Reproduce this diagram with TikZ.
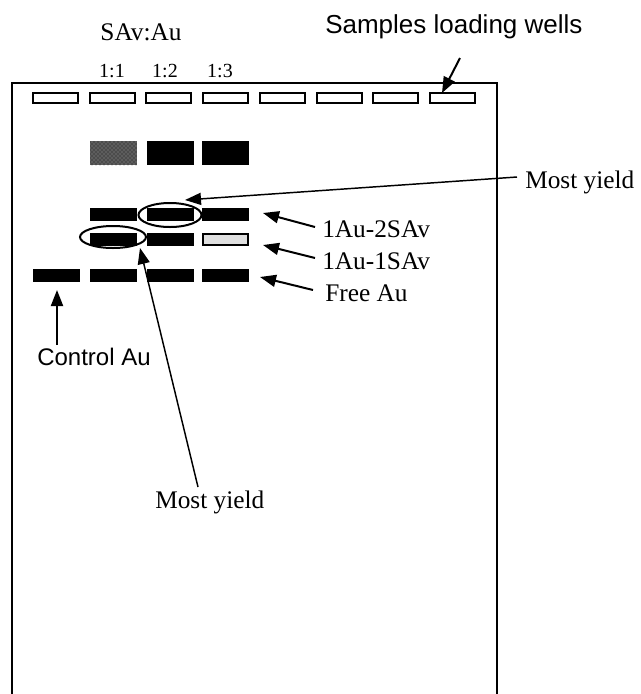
\documentclass[tikz,border=0pt]{standalone}
\usepackage{fontspec}
\setmainfont{Liberation Serif}
\newfontfamily\sansf{Liberation Sans}
\usetikzlibrary{arrows.meta,shapes.geometric,patterns}
\begin{document}
\begin{tikzpicture}[x=0.75pt,y=-0.75pt,
  gelline/.style={line width=1.5pt},
  well/.style={draw, line width=1.5pt, minimum width=33.75pt, minimum height=7.5pt, inner sep=0pt},
  band/.style={fill=black, minimum width=35.25pt, minimum height=9.75pt, inner sep=0pt},
  thickband/.style={band, minimum height=18pt},
  ring/.style={draw, ellipse, line width=1.5pt, inner sep=0pt},
  arr/.style={line width=1.5pt, -{Triangle[length=12pt,width=9pt]}},
  thinarr/.style={line width=1.1pt, -{Triangle[length=12pt,width=9pt]}},
  serif/.style={inner sep=0pt, font=\fontsize{19}{22}\selectfont},
  small/.style={inner sep=0pt, font=\fontsize{15}{18}\selectfont},
  sans/.style={inner sep=0pt, font=\sansf\fontsize{18}{21}\selectfont}
]
\useasboundingbox (0,0) rectangle (641,694);
% gel outline (open at the bottom)
\draw[gelline] (12,694) -- (12,83) -- (497,83) -- (497,694);
% wells
\foreach \i in {0,...,7}{
  \node[well] (w\i) at ({55.5+56.7*\i},98) {};
}
% top row bands
\node[thickband, fill=black!70, postaction={pattern=crosshatch dots, pattern color=white!60!black}] (t2) at (113.5,153) {};
\node[thickband] (t3) at (170,153) {};
\node[thickband] (t4) at (225.5,153) {};
% 1Au-2SAv row
\node[band] (a2) at (113.5,214.5) {};
\node[band] (a3) at (170,214.5) {};
\node[band] (a4) at (225.5,214.5) {};
% 1Au-1SAv row
\node[band] (b2) at (113.5,239.5) {};
\node[band] (b3) at (170,239.5) {};
\node[band, fill=gray!25, draw=black, line width=1.5pt, minimum width=33.75pt, minimum height=8.25pt] (b4) at (225.5,239.5) {};
% free Au row
\node[band] (f1) at (56.5,275.5) {};
\node[band] (f2) at (113.5,275.5) {};
\node[band] (f3) at (170,275.5) {};
\node[band] (f4) at (225.5,275.5) {};
% ellipses
\node[ring, minimum width=47.25pt, minimum height=18pt] (e1) at (170,215) {};
\node[ring, minimum width=49.5pt, minimum height=16.5pt] (e2) at (113,237) {};
% labels
\node[serif, anchor=base] (sav) at (141,40) {SAv:Au};
\node[small, anchor=base] (r1) at (112,77) {1:1};
\node[small, anchor=base] (r2) at (165,77) {1:2};
\node[small, anchor=base] (r3) at (220,77) {1:3};
\node[sans, font=\sansf\fontsize{19.5}{22}\selectfont, anchor=base west] (slw) at (325,33) {Samples loading wells};
\node[serif, anchor=base west] (my1) at (525,188) {Most yield};
\node[serif, anchor=base west] (l2) at (322,237) {1Au-2SAv};
\node[serif, anchor=base west] (l1) at (322,269) {1Au-1SAv};
\node[serif, anchor=base west] (lf) at (325,301) {Free Au};
\node[sans, anchor=base west] (ca) at (37,365) {Control Au};
\node[serif, anchor=base west] (my2) at (155,508) {Most yield};
% connector end points
\coordinate (sT) at (460,58);  \coordinate (sH) at (442,93);
\coordinate (m1T) at (517,177); \coordinate (m1H) at (185,200);
\coordinate (l2T) at (315,227); \coordinate (l2H) at (263,213);
\coordinate (l1T) at (315,258); \coordinate (l1H) at (263,245);
\coordinate (lfT) at (313,290); \coordinate (lfH) at (260,277);
\coordinate (caT) at (57,345);  \coordinate (caH) at (57,290);
\coordinate (m2T) at (198,487); \coordinate (m2H) at (140,248);
% connectors
\draw[arr] (sT) -- (sH);
\draw[thinarr] (m1T) -- (m1H);
\draw[arr] (l2T) -- (l2H);
\draw[arr] (l1T) -- (l1H);
\draw[arr] (lfT) -- (lfH);
\draw[arr] (caT) -- (caH);
\draw[thinarr] (m2T) -- (m2H);
\end{tikzpicture}
\end{document}
